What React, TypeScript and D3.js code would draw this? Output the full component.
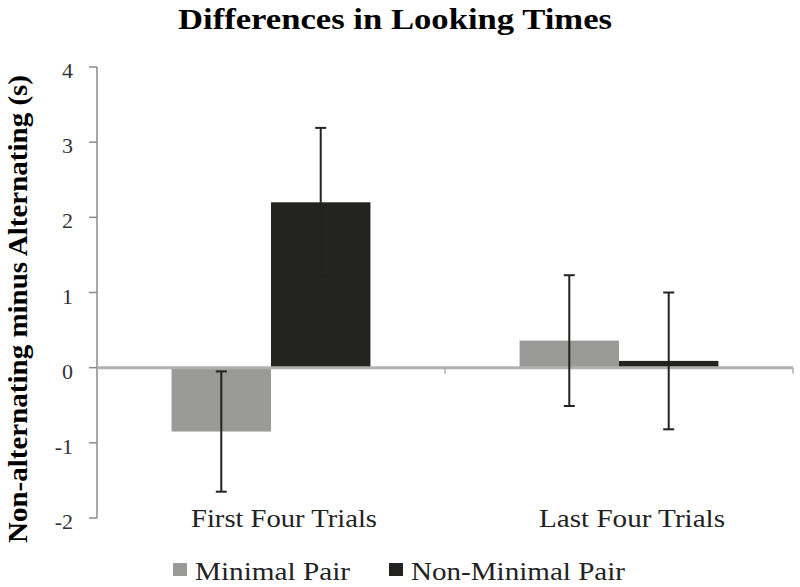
import React from 'react';
import * as d3 from 'd3';

const categories = ['First Four Trials', 'Last Four Trials'];
const seriesNames = ['Minimal Pair', 'Non-Minimal Pair'];
const seriesColors = ['#9a9b99', '#232422'];

// bar heights and error bar ends, per category
const minimalPair = [-0.85, 0.36];
const minimalPairLow = [-1.65, -0.51];
const minimalPairHigh = [-0.05, 1.23];
const nonMinimalPair = [2.2, 0.09];
const nonMinimalPairLow = [1.23, -0.82];
const nonMinimalPairHigh = [3.19, 1.0];

const yTicks = [-2, -1, 0, 1, 2, 3, 4];

export default function App() {
  const width = 800;
  const height = 587;

  const x = d3.scaleBand().domain(categories).range([97, 793]);
  const xInner = d3.scaleBand()
    .domain(seriesNames)
    .range([0, x.bandwidth()])
    .paddingInner(0)
    .paddingOuter(0.75);
  const y = d3.scaleLinear().domain([-2, 4]).range([518, 67]);

  const series = [
    { name: seriesNames[0], color: seriesColors[0], values: minimalPair, low: minimalPairLow, high: minimalPairHigh },
    { name: seriesNames[1], color: seriesColors[1], values: nonMinimalPair, low: nonMinimalPairLow, high: nonMinimalPairHigh },
  ];

  const boundaries = [...categories.map((c) => x(c) as number), 793];

  return (
    <svg width={width} height={height} style={{ position: 'absolute', left: 0, top: 0, background: '#fff' }}>
      <text x={395} y={29} textAnchor="middle" fontFamily="Liberation Serif" fontWeight="bold" fontSize={29}
        textLength={434} lengthAdjust="spacingAndGlyphs">
        Differences in Looking Times
      </text>

      {/* y label */}
      <text transform={`translate(27,309) rotate(-90)`} textAnchor="middle" fontFamily="Liberation Serif"
        fontWeight="bold" fontSize={27} textLength={468} lengthAdjust="spacingAndGlyphs">
        Non-alternating minus Alternating (s)
      </text>

      {/* y axis */}
      <line x1={97} x2={97} y1={y(4)} y2={y(-2)} stroke="#8a8a8a" strokeWidth={1.5} />
      {yTicks.map((t) => (
        <g key={t}>
          <line x1={89} x2={97} y1={y(t)} y2={y(t)} stroke="#8a8a8a" strokeWidth={1.5} />
          <text x={73} y={y(t) + 11} textAnchor="end" fontFamily="serif" fontSize={22} fill="#333">
            {t}
          </text>
        </g>
      ))}

      {/* bars */}
      {series.map((s) => categories.map((c, i) => {
        const x0 = (x(c) as number) + (xInner(s.name) as number);
        const top = y(Math.max(0, s.values[i]));
        const bottom = y(Math.min(0, s.values[i]));
        return (
          <rect key={s.name + c} x={x0} y={top} width={xInner.bandwidth()} height={bottom - top} fill={s.color} />
        );
      }))}

      {/* zero axis */}
      <line x1={97} x2={793} y1={y(0)} y2={y(0)} stroke="#b0b0b0" strokeWidth={3} />
      {boundaries.slice(1).map((bx) => (
        <line key={bx} x1={bx} x2={bx} y1={y(0)} y2={y(0) + 6} stroke="#b0b0b0" strokeWidth={1.5} />
      ))}

      {/* error bars */}
      {series.map((s) => categories.map((c, i) => {
        const cx = (x(c) as number) + (xInner(s.name) as number) + xInner.bandwidth() / 2;
        return (
          <g key={'e' + s.name + c} stroke="#222" strokeWidth={2}>
            <line x1={cx} x2={cx} y1={y(s.high[i])} y2={y(s.low[i])} />
            <line x1={cx - 5.5} x2={cx + 5.5} y1={y(s.high[i])} y2={y(s.high[i])} />
            <line x1={cx - 5.5} x2={cx + 5.5} y1={y(s.low[i])} y2={y(s.low[i])} />
          </g>
        );
      }))}

      {/* category labels */}
      {categories.map((c) => (
        <text key={c} x={(x(c) as number) + x.bandwidth() / 2 + 13} y={527} textAnchor="middle"
          fontFamily="Liberation Serif" fontSize={25} fill="#222" textLength={186} lengthAdjust="spacingAndGlyphs">
          {c}
        </text>
      ))}

      {/* legend */}
      {series.map((s, i) => {
        const lx = i === 0 ? 173 : 389;
        const tw = i === 0 ? 155 : 214;
        return (
          <g key={'l' + s.name}>
            <rect x={lx} y={563} width={14} height={13} fill={s.color} />
            <text x={lx + 22} y={580} fontFamily="Times New Roman" fontSize={25} fill="#222"
              textLength={tw} lengthAdjust="spacingAndGlyphs">
              {s.name}
            </text>
          </g>
        );
      })}
    </svg>
  );
}
